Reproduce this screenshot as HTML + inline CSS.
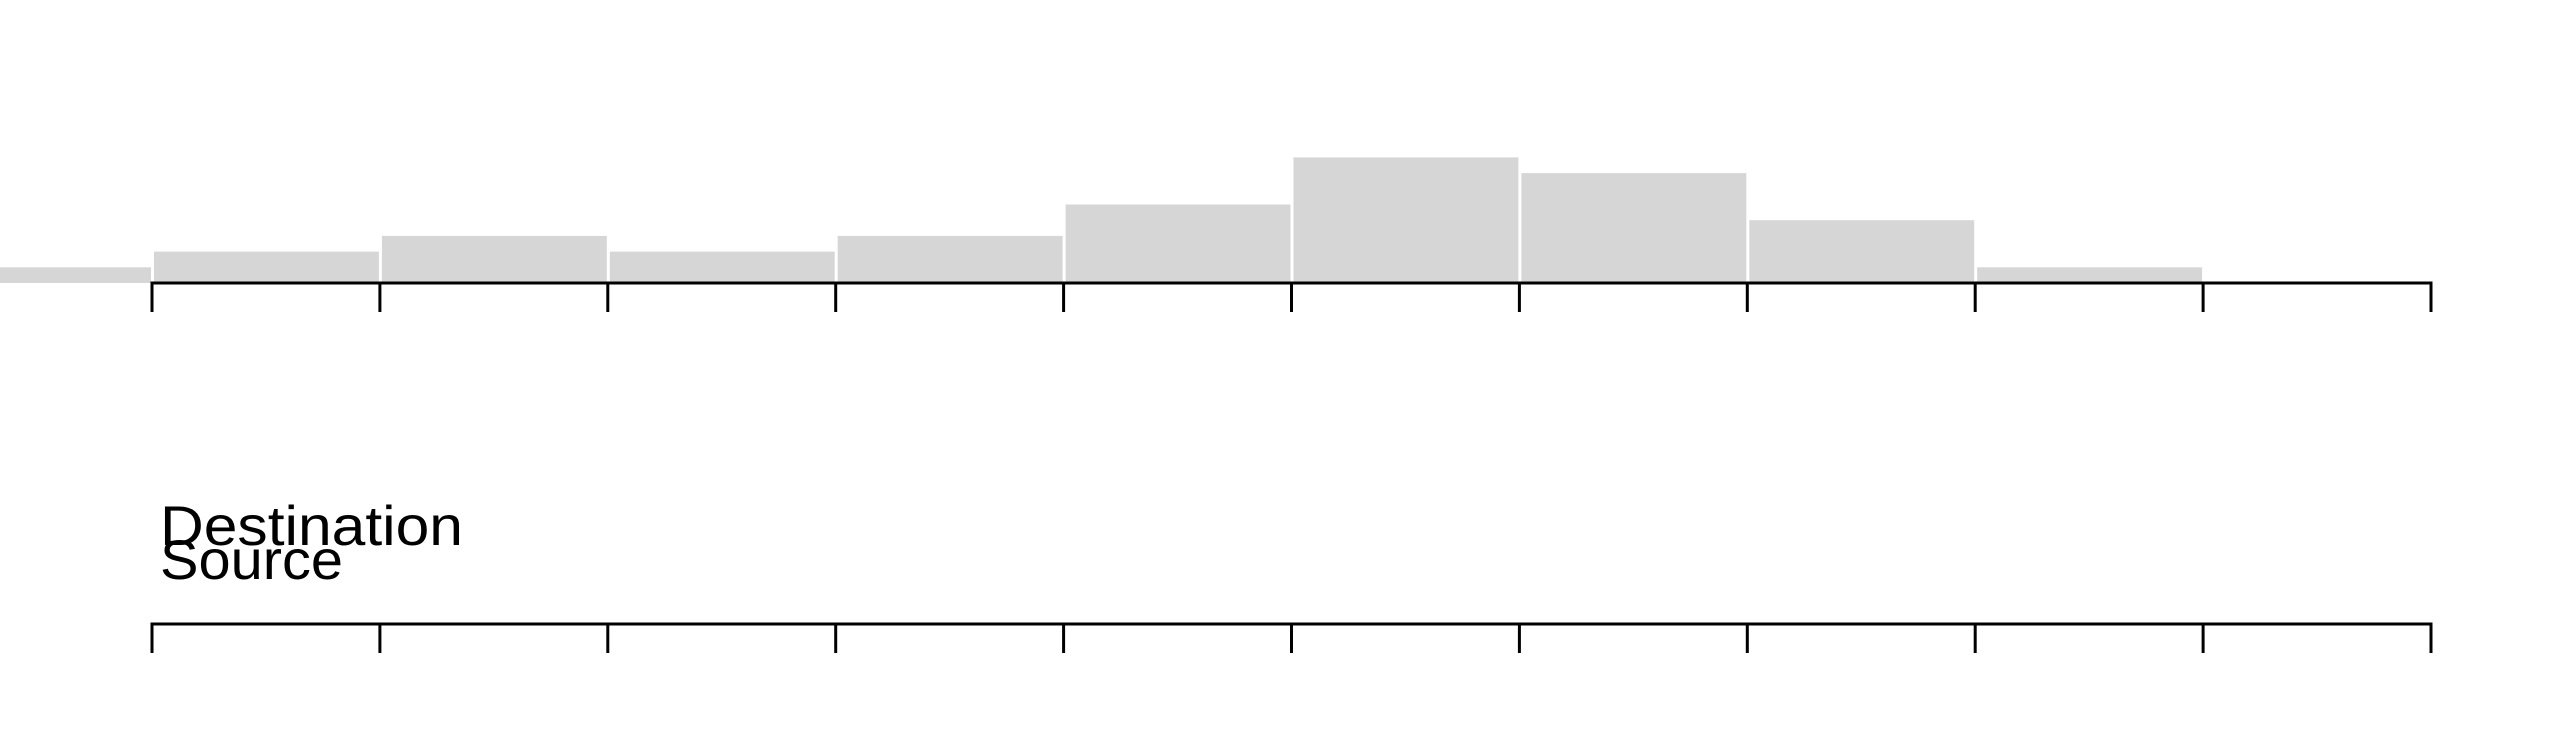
<!DOCTYPE html>
<html><head><meta charset="utf-8"><style>
html,body{margin:0;padding:0;background:#fff;}
svg{display:block;}
</style></head><body>
<svg id="chart" width="2560" height="742" xmlns="http://www.w3.org/2000/svg">
<g id="bars"></g>
<g id="axis-top"></g>
<g id="axis-bottom"></g>
<text x="160" y="545" font-family="Liberation Sans, sans-serif" font-size="56" textLength="303" lengthAdjust="spacingAndGlyphs" fill="#000">Destination</text>
<text x="160" y="579" font-family="Liberation Sans, sans-serif" font-size="56" textLength="183" lengthAdjust="spacingAndGlyphs" fill="#000">Source</text>
</svg>
<script>
const binStarts = [-1,0,1,2,3,4,5,6,7,8,9];
const counts = [1,2,3,2,3,5,8,7,4,1,0];
const tickValues = [0,1,2,3,4,5,6,7,8,9,10];

const NS = "http://www.w3.org/2000/svg";
const x0 = 152, step = 227.9, unit = 15.7;
const xs = v => x0 + v * step;
const topBase = 283, botBase = 624;
const ys = c => topBase - c * unit;

const barsG = document.getElementById('bars');
binStarts.forEach((b, i) => {
  if (counts[i] <= 0) return;
  const left = Math.max(0, xs(b) + 2);
  const right = xs(b + 1) - 1;
  const r = document.createElementNS(NS, 'rect');
  
  
  r.setAttribute('x', left);
  r.setAttribute('y', ys(counts[i]));
  r.setAttribute('width', right - left);
  r.setAttribute('height', topBase - ys(counts[i]));
  r.setAttribute('fill', '#d6d6d6');
  barsG.appendChild(r);
});

function drawAxis(g, y) {
  const first = xs(tickValues[0]), last = xs(tickValues[tickValues.length - 1]);
  const line = document.createElementNS(NS, 'line');
  
  
  line.setAttribute('x1', first); line.setAttribute('x2', last);
  line.setAttribute('y1', y); line.setAttribute('y2', y);
  line.setAttribute('stroke', '#000'); line.setAttribute('stroke-width', '3');
  g.appendChild(line);
  tickValues.forEach(v => {
    const t = document.createElementNS(NS, 'line');
    
    
    t.setAttribute('x1', xs(v)); t.setAttribute('x2', xs(v));
    t.setAttribute('y1', y - 1.5); t.setAttribute('y2', y + 29);
    t.setAttribute('stroke', '#000'); t.setAttribute('stroke-width', '3');
    g.appendChild(t);
  });
}
drawAxis(document.getElementById('axis-top'), topBase);
drawAxis(document.getElementById('axis-bottom'), botBase);
</script>
</body></html>
